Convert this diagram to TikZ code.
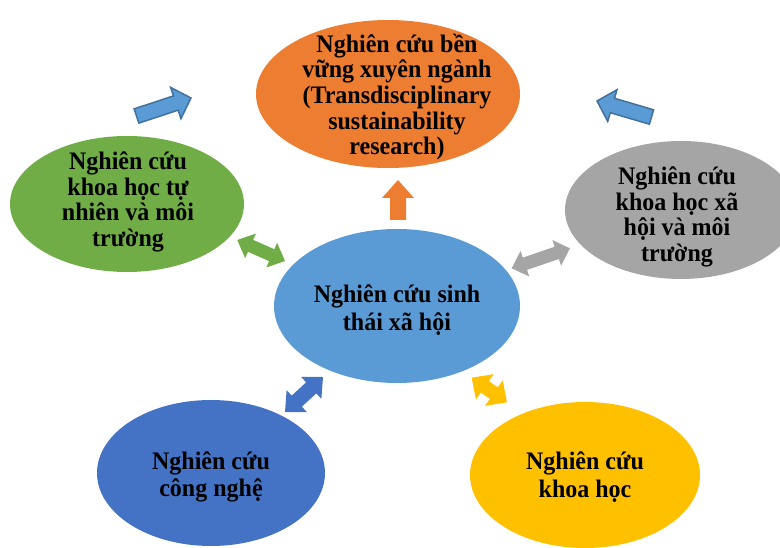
\documentclass[tikz,border=0pt]{standalone}
\usepackage{fontspec}
\setmainfont{Liberation Serif}
\usetikzlibrary{shapes.geometric}
\definecolor{cOrange}{HTML}{ED7D31}
\definecolor{cGreen}{HTML}{70AD47}
\definecolor{cGray}{HTML}{A5A5A5}
\definecolor{cBlue}{HTML}{5B9BD5}
\definecolor{cDBlue}{HTML}{4472C4}
\definecolor{cYellow}{HTML}{FFC000}
\definecolor{cLine}{HTML}{41719C}
\newcommand\dblarr[8]{%
  \pgfmathsetmacro\aang{atan2(-(#5-#3),#4-#2)}%
  \pgfmathsetmacro\alen{veclen(#4-#2,#5-#3)}%
  \begin{scope}[shift={(#2,#3)},rotate=\aang]
    \path[#1] (0,0) -- (#8,#7/2) -- (#8,#6/2) -- (\alen-#8,#6/2) -- (\alen-#8,#7/2)
      -- (\alen,0) -- (\alen-#8,-#7/2) -- (\alen-#8,-#6/2) -- (#8,-#6/2) -- (#8,-#7/2) -- cycle;
  \end{scope}}
\newcommand\sglarr[8]{%
  \pgfmathsetmacro\aang{atan2(-(#5-#3),#4-#2)}%
  \pgfmathsetmacro\alen{veclen(#4-#2,#5-#3)}%
  \begin{scope}[shift={(#2,#3)},rotate=\aang]
    \path[#1] (0,#6/2) -- (\alen-#8,#6/2) -- (\alen-#8,#7/2)
      -- (\alen,0) -- (\alen-#8,-#7/2) -- (\alen-#8,-#6/2) -- (0,-#6/2) -- cycle;
  \end{scope}}
\tikzset{
  blob/.style={ellipse, inner sep=0pt, draw=none},
  txt/.style={align=center, inner sep=0pt, yscale=1.05, transform shape,
    font=\bfseries\fontsize{24}{24.5}\selectfont},
}
\begin{document}
\begin{tikzpicture}[x=1pt,y=-1pt]
\useasboundingbox (0,0) rectangle (780,548);
% ellipses
\node[blob, fill=cOrange, minimum width=264pt, minimum height=148pt] (top) at (388,94) {};
\node[blob, fill=cGreen, minimum width=234pt, minimum height=136pt] (left) at (127,204) {};
\node[blob, fill=cGray, minimum width=232pt, minimum height=138pt] (right) at (681,210) {};
\node[blob, fill=cBlue, minimum width=246pt, minimum height=154pt] (mid) at (397,306) {};
\node[blob, fill=cDBlue, minimum width=228pt, minimum height=146pt] (bl) at (211,473) {};
\node[blob, fill=cYellow, minimum width=230pt, minimum height=146pt] (br) at (585,475) {};
% texts
\node[txt] (ttop) at (397,97) {Nghiên cứu bền\\vững xuyên ngành\\(Transdisciplinary\\sustainability\\research)};
\node[txt] (tleft) at (128,202) {Nghiên cứu\\khoa học tự\\nhiên và môi\\trường};
\node[txt] (tright) at (677,217) {Nghiên cứu\\khoa học xã\\hội và môi\\trường};
\node[txt, font=\bfseries\fontsize{24}{26}\selectfont] (tmid) at (397,310) {Nghiên cứu sinh\\thái xã hội};
\node[txt, font=\bfseries\fontsize{24}{26}\selectfont] (tbl) at (211,477) {Nghiên cứu\\công nghệ};
\node[txt, font=\bfseries\fontsize{24}{26}\selectfont] (tbr) at (585,477) {Nghiên cứu\\khoa học};
% arrows
\sglarr{fill=cBlue, draw=cLine, line width=1.5pt, line join=miter}{136.5}{116}{191}{98}{15}{33}{16}
\sglarr{fill=cBlue, draw=cLine, line width=1.5pt, line join=miter}{651.5}{117}{597}{101}{15}{33}{16}
\sglarr{fill=cOrange}{398}{220}{398}{180}{16}{32}{18}
\dblarr{fill=cGreen}{237.3}{240}{285}{261}{13}{27}{14.5}
\dblarr{fill=cGray}{511.7}{268.3}{570}{248.3}{13}{27}{14}
\dblarr{fill=cDBlue}{285}{412}{323}{377}{15}{30}{16}
\dblarr{fill=cYellow}{471.7}{377.7}{507}{402.3}{14}{31}{16}
\end{tikzpicture}
\end{document}
